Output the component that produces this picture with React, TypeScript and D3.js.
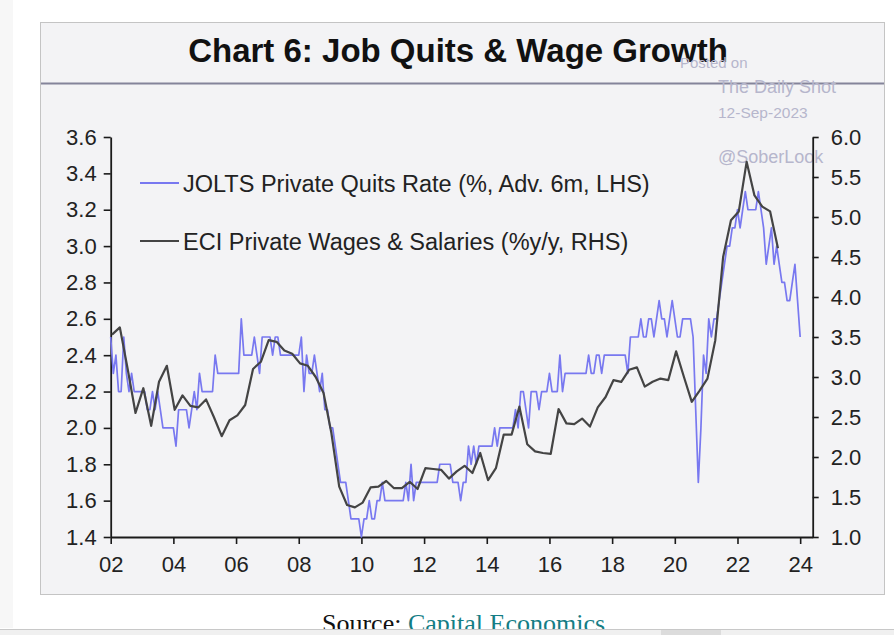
import { useEffect, useRef } from "react"
import * as d3 from "d3"

// JOLTS private quits rate (%, advanced 6m), monthly, first value = Jan 2002, one row per year
const quitsRate: number[] = [
  2.5, 2.3, 2.4, 2.2, 2.2, 2.5, 2.3, 2.2, 2.3, 2.2, 2.2, 2.2, // 02
  2.2, 2.2, 2.1, 2.1, 2.2, 2.1, 2.2, 2.1, 2.0, 2.0, 2.0, 2.0, // 03
  2.0, 1.9, 2.1, 2.1, 2.1, 2.1, 2.0, 2.1, 2.2, 2.1, 2.3, 2.2, // 04
  2.2, 2.2, 2.2, 2.2, 2.4, 2.3, 2.3, 2.3, 2.3, 2.3, 2.3, 2.3, // 05
  2.3, 2.3, 2.6, 2.4, 2.4, 2.4, 2.4, 2.5, 2.4, 2.3, 2.5, 2.5, // 06
  2.5, 2.5, 2.4, 2.5, 2.5, 2.4, 2.4, 2.4, 2.4, 2.4, 2.4, 2.4, // 07
  2.4, 2.5, 2.2, 2.4, 2.3, 2.3, 2.4, 2.3, 2.2, 2.3, 2.1, 2.1, // 08
  2.0, 2.0, 1.9, 1.8, 1.7, 1.7, 1.7, 1.6, 1.5, 1.5, 1.5, 1.5, // 09
  1.4, 1.5, 1.5, 1.6, 1.5, 1.5, 1.6, 1.6, 1.7, 1.6, 1.6, 1.6, // 10
  1.6, 1.6, 1.6, 1.6, 1.6, 1.7, 1.6, 1.8, 1.6, 1.7, 1.7, 1.7, // 11
  1.7, 1.7, 1.7, 1.7, 1.7, 1.7, 1.8, 1.8, 1.8, 1.8, 1.8, 1.7, // 12
  1.7, 1.7, 1.6, 1.7, 1.7, 1.9, 1.8, 1.9, 1.8, 1.9, 1.9, 1.9, // 13
  1.9, 1.9, 1.9, 2.0, 1.9, 2.0, 2.0, 2.0, 2.0, 2.0, 2.0, 2.1, // 14
  2.0, 2.2, 2.2, 2.1, 2.0, 2.2, 2.2, 2.2, 2.1, 2.2, 2.2, 2.2, // 15
  2.3, 2.2, 2.2, 2.2, 2.4, 2.2, 2.3, 2.3, 2.3, 2.3, 2.3, 2.3, // 16
  2.3, 2.3, 2.3, 2.4, 2.3, 2.3, 2.4, 2.4, 2.3, 2.4, 2.4, 2.4, // 17
  2.4, 2.4, 2.4, 2.4, 2.4, 2.4, 2.3, 2.5, 2.5, 2.5, 2.5, 2.6, // 18
  2.5, 2.5, 2.6, 2.6, 2.5, 2.6, 2.7, 2.6, 2.6, 2.5, 2.6, 2.7, // 19
  2.6, 2.5, 2.5, 2.6, 2.6, 2.6, 2.6, 2.5, 2.1, 1.7, 2.0, 2.4, // 20
  2.3, 2.6, 2.5, 2.6, 2.6, 2.7, 2.8, 2.9, 3.0, 3.0, 3.1, 3.1, // 21
  3.2, 3.1, 3.2, 3.3, 3.2, 3.2, 3.2, 3.2, 3.3, 3.2, 3.1, 2.9, // 22
  3.0, 3.1, 2.9, 3.0, 2.9, 2.8, 2.8, 2.7, 2.7, 2.8, 2.9, 2.7, // 23
  2.5, // 24
]
const quitsStart = 2002

// ECI private wages & salaries (%y/y), quarterly, first value = 2002 Q1
const eciWages: number[] = [
  3.53, 3.62, 3.1, 2.55, // 02
  2.86, 2.39, 2.94, 3.14, // 03
  2.59, 2.77, 2.64, 2.62, // 04
  2.72, 2.5, 2.26, 2.46, // 05
  2.52, 2.65, 3.1, 3.19, // 06
  3.46, 3.44, 3.33, 3.29, // 07
  3.17, 3.14, 3.0, 2.8, // 08
  2.3, 1.63, 1.4, 1.37, // 09
  1.43, 1.62, 1.63, 1.7, // 10
  1.61, 1.61, 1.69, 1.6, // 11
  1.86, 1.85, 1.84, 1.73, // 12
  1.82, 1.89, 1.8, 2.05, // 13
  1.71, 1.86, 2.28, 2.28, // 14
  2.63, 2.16, 2.07, 2.05, // 15
  2.04, 2.6, 2.42, 2.41, // 16
  2.48, 2.38, 2.62, 2.75, // 17
  2.96, 2.94, 3.09, 3.12, // 18
  2.88, 2.94, 2.98, 2.96, // 19
  3.32, 3.0, 2.69, 2.83, // 20
  2.98, 3.46, 4.5, 4.96, // 21
  5.07, 5.69, 5.27, 5.13, // 22
  5.07, 4.61, // 23
]
const eciStart = 2002

const leftTicks = [1.4, 1.6, 1.8, 2.0, 2.2, 2.4, 2.6, 2.8, 3.0, 3.2, 3.4, 3.6]
const rightTicks = [1.0, 1.5, 2.0, 2.5, 3.0, 3.5, 4.0, 4.5, 5.0, 5.5, 6.0]
const xTicks = [2002, 2004, 2006, 2008, 2010, 2012, 2014, 2016, 2018, 2020, 2022, 2024]
const xTickLabels = ["02", "04", "06", "08", "10", "12", "14", "16", "18", "20", "22", "24"]

const seriesNames = ["JOLTS Private Quits Rate (%, Adv. 6m, LHS)", "ECI Private Wages & Salaries (%y/y, RHS)"]
const seriesColors = ["#7878f0", "#444444"]

const SANS = "'Liberation Sans', Arial, sans-serif"

export default function App() {
  const svgRef = useRef<SVGSVGElement>(null)

  useEffect(() => {
    if (!svgRef.current) return
    const svg = d3.select(svgRef.current)
    svg.selectAll("*").remove()

    const W = 894
    const H = 635

    // page background and side strip
    svg.append("rect").attr("width", W).attr("height", H).attr("fill", "#ffffff")
    svg.append("rect").attr("x", 0).attr("y", 0).attr("width", 13).attr("height", 628).attr("fill", "#f7f7f7")

    // chart frame
    svg
      .append("rect")
      .attr("x", 40.5)
      .attr("y", 22.5)
      .attr("width", 844)
      .attr("height", 572)
      .attr("fill", "#f3f3f5")
      .attr("stroke", "#c4c4c4")
    svg
      .append("line")
      .attr("x1", 41)
      .attr("x2", 884)
      .attr("y1", 83.5)
      .attr("y2", 83.5)
      .attr("stroke", "#84849a")
      .attr("stroke-width", 2)

    // title
    svg
      .append("text")
      .attr("x", 458)
      .attr("y", 62)
      .attr("text-anchor", "middle")
      .style("font-family", SANS)
      .style("font-weight", "bold")
      .style("font-size", "33px")
      .style("fill", "#111")
      .text("Chart 6: Job Quits & Wage Growth")

    // watermark
    const wm = [
      { t: "Posted on", x: 680, y: 68, s: 15 },
      { t: "The Daily Shot", x: 718, y: 93, s: 18 },
      { t: "12-Sep-2023", x: 718, y: 118, s: 15.5 },
      { t: "@SoberLook", x: 718, y: 163, s: 18 },
    ]
    wm.forEach((d) => {
      svg
        .append("text")
        .attr("x", d.x)
        .attr("y", d.y)
        .style("font-family", SANS)
        .style("font-size", `${d.s}px`)
        .style("fill", "#b6b6cc")
        .text(d.t)
    })

    // scales
    const x = d3.scaleLinear().domain([2002, 2024.4]).range([110.7, 812.7])
    const yL = d3.scaleLinear().domain([1.4, 3.6]).range([537, 137])
    const yR = d3.scaleLinear().domain([1.0, 6.0]).range([537, 137])

    const styleAxis = (g: d3.Selection<SVGGElement, unknown, null, undefined>) => {
      g.select(".domain").attr("stroke", "#1a1a1a").attr("stroke-width", 1.8)
      g.selectAll(".tick line").attr("stroke", "#1a1a1a").attr("stroke-width", 1.6)
      g.selectAll(".tick text")
        .style("font-family", SANS)
        .style("font-size", "22px")
        .style("fill", "#222")
    }

    svg
      .append("g")
      .attr("transform", `translate(${x.range()[0]},0)`)
      .call(
        d3
          .axisLeft(yL)
          .tickValues(leftTicks)
          .tickSize(7)
          .tickSizeOuter(0)
          .tickPadding(7)
          .tickFormat(d3.format(".1f") as any)
      )
      .call(styleAxis)

    svg
      .append("g")
      .attr("transform", `translate(${x.range()[1]},0)`)
      .call(
        d3
          .axisRight(yR)
          .tickValues(rightTicks)
          .tickSize(6)
          .tickSizeOuter(0)
          .tickPadding(12)
          .tickFormat(d3.format(".1f") as any)
      )
      .call(styleAxis)

    svg
      .append("g")
      .attr("transform", `translate(0,${yL.range()[0]})`)
      .call(
        d3
          .axisBottom(x)
          .tickValues(xTicks)
          .tickSize(7)
          .tickSizeOuter(0)
          .tickPadding(12)
          .tickFormat((_d, i) => xTickLabels[i])
      )
      .call(styleAxis)

    // series
    const quitsPts = quitsRate.map((v, i) => ({ t: quitsStart + i / 12, v }))
    const eciPts = eciWages.map((v, i) => ({ t: eciStart + i / 4 + 1 / 24, v }))

    const lineL = d3
      .line<{ t: number; v: number }>()
      .x((d) => x(d.t))
      .y((d) => yL(d.v))
    const lineR = d3
      .line<{ t: number; v: number }>()
      .x((d) => x(d.t))
      .y((d) => yR(d.v))

    svg
      .append("path")
      .attr("d", lineL(quitsPts))
      .attr("fill", "none")
      .attr("stroke", seriesColors[0])
      .attr("stroke-width", 1.7)
      .attr("stroke-linejoin", "round")

    svg
      .append("path")
      .attr("d", lineR(eciPts))
      .attr("fill", "none")
      .attr("stroke", seriesColors[1])
      .attr("stroke-width", 2.2)
      .attr("stroke-linejoin", "round")

    // legend
    const legend = svg.append("g").attr("transform", "translate(140,183)")
    seriesNames.forEach((name, i) => {
      const item = legend.append("g").attr("transform", `translate(0,${i * 58})`)
      item
        .append("line")
        .attr("x1", 0)
        .attr("x2", 39)
        .attr("stroke", seriesColors[i])
        .attr("stroke-width", i === 0 ? 1.8 : 2.2)
      item
        .append("text")
        .attr("x", 43)
        .attr("y", 8.5)
        .style("font-family", SANS)
        .style("font-size", "23.5px")
        .style("fill", "#222")
        .text(name)
    })

    // source line under the chart
    const src = svg
      .append("text")
      .attr("x", 322)
      .attr("y", 632)
      .style("font-family", "'Liberation Serif', 'Times New Roman', serif")
      .style("font-size", "26px")
    src.append("tspan").style("fill", "#111").text("Source: ")
    src.append("tspan").style("fill", "#147d85").text("Capital Economics")

    // bottom browser bar
    svg.append("rect").attr("x", 0).attr("y", 629).attr("width", W).attr("height", 6).attr("fill", "#f0f0f0")
    svg
      .append("line")
      .attr("x1", 0)
      .attr("x2", W)
      .attr("y1", 629.5)
      .attr("y2", 629.5)
      .attr("stroke", "#c8c8c8")
    svg.append("rect").attr("x", 661).attr("y", 630).attr("width", 60).attr("height", 5).attr("fill", "#dcdcdc")
  }, [])

  return (
    <svg
      ref={svgRef}
      width={894}
      height={635}
      style={{ position: "absolute", left: 0, top: 0, display: "block" }}
    ></svg>
  )
}
